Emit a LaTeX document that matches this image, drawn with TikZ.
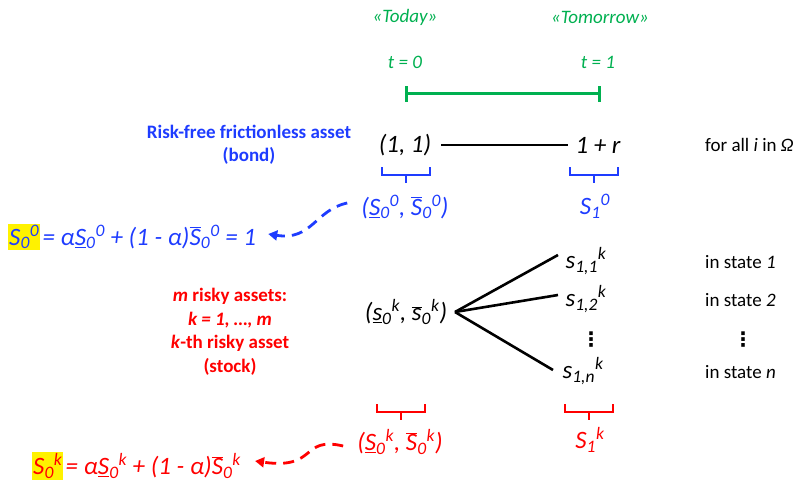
\documentclass[tikz,border=0pt]{standalone}
\usepackage{fontspec}
\setmainfont{Carlito}
\newfontfamily\dejavu{DejaVu Sans}
\usetikzlibrary{arrows.meta}
\definecolor{myblue}{RGB}{30,60,255}
\definecolor{myred}{RGB}{255,0,0}
\definecolor{mygreen}{RGB}{0,176,80}
\newcommand{\ul}[1]{\underline{#1}}
\newcommand{\ob}[1]{\ensuremath{\overline{\hbox{#1}}}}
\newcommand{\sbp}[2]{\textsubscript{#1}\textsuperscript{#2}}
\begin{document}
\begin{tikzpicture}[x=1pt,y=-1pt,
  every node/.style={inner sep=0pt, font=\fontsize{19}{23.5}\selectfont},
  mth/.style={font=\fontsize{25}{30}\selectfont\itshape},
  gtxt/.style={text=mygreen, font=\fontsize{19}{23.5}\selectfont\itshape},
  btxt/.style={text=myblue},
  rtxt/.style={text=myred},
  lbl/.style={align=center, font=\fontsize{19}{23.5}\selectfont\bfseries},
  vdots/.style={font=\fontsize{20}{24}\dejavu\bfseries},
  tline/.style={line width=3pt, mygreen},
  conn/.style={line width=2.6pt, black},
  brace/.style={line width=2.6pt},
  darrow/.style={line width=2.8pt, dash pattern=on 11pt off 7pt, -{Triangle[length=9pt,width=10pt]}},
]
\useasboundingbox (0,0) rectangle (799,489);

% time axis
\node[gtxt] (today) at (405,17) {«Today»};
\node[gtxt] (tomorrow) at (600,17) {«Tomorrow»};
\node[gtxt] (t0) at (405,62) {t = 0};
\node[gtxt] (t1) at (598,62) {t = 1};
\coordinate (g0) at (406,94);
\coordinate (g1) at (599,94);
\draw[tline] (g0) -- (g1);
\draw[tline] ([yshift=-8]g0) -- ([yshift=8]g0);
\draw[tline] ([yshift=-8]g1) -- ([yshift=8]g1);

% bond
\node[btxt, lbl] (bondlbl) at (249,145) {Risk-free frictionless asset\\(bond)};
\node[mth] (b0) at (405,145) {(1, 1)};
\node[mth] (b1) at (598,145) {1 + r};
\draw[conn] ([xshift=10]b0.east) -- ([xshift=-7]b1.west);
\node[anchor=west] (forall) at (705,145) {for all \textit{i} in \textit{Ω}};

\draw[brace, myblue] (382,167) -- (382,175) -- (430,175) -- (430,167);
\draw[brace, myblue] (406,175) -- (406,183);
\draw[brace, myblue] (570,167) -- (570,175) -- (618,175) -- (618,167);
\draw[brace, myblue] (594,175) -- (594,183);

\node[btxt, mth] (bS0) at (405,207) {(\ul{S}\sbp{0}{0}, \ob{S}\sbp{0}{0})};
\node[btxt, mth] (bS1) at (595,206) {S\sbp{1}{0}};

\node[fill=yellow, text=myblue, mth, inner sep=1pt, anchor=west] (hl0) at (8,237) {S\sbp{0}{0}};
\node[btxt, mth, anchor=base west] (f0) at ([xshift=2]hl0.base east) {= α\ul{S}\sbp{0}{0} + (1 - α)\ob{S}\sbp{0}{0} = 1};

\draw[darrow, myblue] ([xshift=-14,yshift=4]bS0.west) .. controls (315,210) and (312,241) .. ([xshift=12,yshift=3]f0.east);

% stock
\node[rtxt, lbl] (stocklbl) at (230,332) {\textit{m} risky assets:\\\textit{k = 1, …, m}\\\textit{k}-th risky asset\\(stock)};
\node[mth] (s0) at (406,312) {(\ul{s}\sbp{0}{k}, \ob{s}\sbp{0}{k})};
\node[mth] (s11) at (586,261) {s\sbp{1,1}{k}};
\node[mth] (s12) at (586,299) {s\sbp{1,2}{k}};
\node[vdots] (sdots) at (591,340) {⋮};
\node[mth] (s1n) at (583,371) {s\sbp{1,n}{k}};
\coordinate (fork) at (455,312);
\draw[conn] (fork) -- (558,255);
\draw[conn] (fork) -- (558,295);
\draw[conn] (fork) -- (553,370);

\node[anchor=west] (st1) at (705,262) {in state \textit{1}};
\node[anchor=west] (st2) at (705,300) {in state \textit{2}};
\node[vdots] (stdots) at (743,340) {⋮};
\node[anchor=west] (stn) at (705,372) {in state \textit{n}};

\draw[brace, myred] (377,404) -- (377,412) -- (425,412) -- (425,404);
\draw[brace, myred] (401,412) -- (401,420);
\draw[brace, myred] (565,404) -- (565,412) -- (613,412) -- (613,404);
\draw[brace, myred] (589,412) -- (589,420);

\node[rtxt, mth] (rS0) at (400,442) {(\ul{S}\sbp{0}{k}, \ob{S}\sbp{0}{k})};
\node[rtxt, mth] (rS1) at (590,440) {S\sbp{1}{k}};

\node[fill=yellow, text=myred, mth, inner sep=1pt, anchor=west] (hlk) at (32,466) {S\sbp{0}{k}};
\node[rtxt, mth, anchor=base west] (fk) at ([xshift=2]hlk.base east) {= α\ul{S}\sbp{0}{k} + (1 - α)\ob{S}\sbp{0}{k}};

\draw[darrow, myred] ([xshift=-14,yshift=-4]rS0.west) .. controls (300,436) and (318,470) .. ([xshift=14,yshift=5]fk.east);
\end{tikzpicture}
\end{document}
